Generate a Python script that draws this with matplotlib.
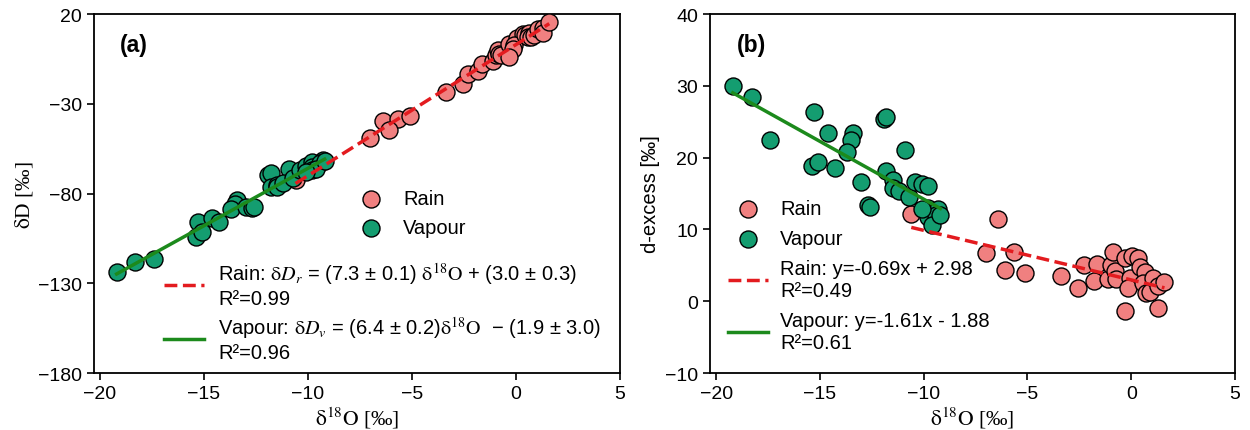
import numpy as np
import matplotlib
matplotlib.use("Agg")
import matplotlib.pyplot as plt

plt.rcParams['font.family'] = ['Liberation Sans', 'DejaVu Sans']
plt.rcParams['mathtext.fontset'] = 'stix'

# ---------------- data ----------------
vap_d18O = [-19.2, -18.3, -17.4, -15.3, -14.6, -13.4, -13.5, -13.7, -15.4, -15.1,
            -14.3, -13.0, -11.9, -11.8, -10.9, -11.8, -11.5, -11.5, -11.2, -10.7,
            -10.4, -10.1, -9.8, -12.7, -12.6, -9.8, -9.3, -9.8, -9.4, -9.6,
            -10.1, -9.2]
vap_dD = [-123.6, -117.9, -116.7, -96.1, -93.4, -83.8, -85.6, -88.8, -104.3, -101.4,
          -95.8, -87.4, -69.8, -68.8, -66.1, -76.2, -75.1, -76.2, -74.3, -71.1,
          -66.6, -64.5, -62.4, -88.2, -87.7, -65.4, -61.5, -66.6, -63.2, -66.2,
          -68.0, -61.6]
vap_dex = [30.0, 28.5, 22.5, 26.3, 23.4, 23.4, 22.4, 20.8, 18.9, 19.4,
           18.6, 16.6, 25.4, 25.6, 21.1, 18.2, 16.9, 15.8, 15.3, 14.5,
           16.6, 16.3, 16.0, 13.4, 13.1, 13.0, 12.9, 11.8, 12.0, 10.6,
           12.8, 12.0]

rain_d18O = [-10.6, -6.4, -7.0, -5.65, -6.1, -5.1, -3.37, -2.57, -2.29, -1.81,
             -1.65, -1.12, -0.96, -0.88, -0.8, -0.72, -0.32, 0.05, 0.32, -0.08,
             -0.16, -0.32, 0.43, 0.64, 0.57, 0.72, 0.88, 1.05, 1.28, 1.28, 1.6]
rain_dD = [-72.7, -39.7, -49.3, -38.3, -44.4, -36.8, -23.5, -18.8, -13.2, -11.7,
           -8.0, -5.9, -2.7, -0.1, -2.2, -2.7, 3.5, 6.7, 8.7, 2.7,
           0.5, -4.0, 8.2, 9.2, 7.2, 7.0, 8.3, 11.6, 12.3, 9.3, 15.5]
rain_dex = [12.1, 11.5, 6.7, 6.9, 4.4, 4.0, 3.5, 1.8, 5.1, 2.8,
            5.2, 3.1, 5.0, 6.9, 4.2, 3.1, 6.1, 6.3, 6.1, 3.3,
            1.8, -1.4, 4.8, 4.1, 2.6, 1.2, 1.3, 3.2, 2.1, -0.9, 2.7]

# regression coefficients (slope, intercept)
fit_a_rain = (7.3, 3.0)
fit_a_vap = (6.4, -1.9)
fit_b_rain = (-0.69, 2.98)
fit_b_vap = (-1.61, -1.88)

lab_a_rain = ("Rain: $\\mathrm{\\delta}\\mathit{D_r}$ = (7.3 ± 0.1) $\\mathrm{\\delta^{18}O}$ + (3.0 ± 0.3)\nR²=0.99")
lab_a_vap = ("Vapour: $\\mathrm{\\delta}\\mathit{D_v}$ = (6.4 ± 0.2)$\\mathrm{\\delta^{18}O}$  − (1.9 ± 3.0)\nR²=0.96")
lab_b_rain = "Rain: y=-0.69x + 2.98\nR²=0.49"
lab_b_vap = "Vapour: y=-1.61x - 1.88\nR²=0.61"

# ---------------- style ----------------
c_rain = '#f08080'
c_vap = '#149d70'
c_rline = '#e31b1f'
c_vline = '#1c8a1c'
FS_TICK = 14
FS_LEG = 14.5
FS_LAB = 15.5
ms = 150

fig = plt.figure(figsize=(12.5, 4.31), dpi=100)
axa = fig.add_axes([0.075, 0.132, 0.421, 0.833])
axb = fig.add_axes([0.568, 0.132, 0.420, 0.833])


def fitline(ax, xs, coef, **kw):
    xr = np.array([min(xs), max(xs)])
    return ax.plot(xr, coef[0] * xr + coef[1], zorder=4, **kw)[0]


for ax in (axa, axb):
    for s in ax.spines.values():
        s.set_linewidth(1.3)
    ax.tick_params(labelsize=FS_TICK, width=1.2, length=5)
    ax.set_xlim(-20.3, 5)
    ax.set_xticks([-20, -15, -10, -5, 0, 5])
    ax.set_xlabel("$\\mathrm{\\delta^{18}O}$ [‰]", fontsize=FS_LAB, family='Liberation Serif', labelpad=2)

# ---- panel (a)
sr = axa.scatter(rain_d18O, rain_dD, s=ms, c=c_rain, edgecolors='black', linewidths=1.0, zorder=3)
sv = axa.scatter(vap_d18O, vap_dD, s=ms, c=c_vap, edgecolors='black', linewidths=1.0, zorder=3)
lr = fitline(axa, rain_d18O, fit_a_rain, color=c_rline, ls='--', lw=2.5)
lv = fitline(axa, vap_d18O, fit_a_vap, color=c_vline, ls='-', lw=2.5)
axa.set_ylim(-180, 20)
axa.set_yticks([-180, -130, -80, -30, 20])
axa.set_ylabel("$\\mathrm{\\delta}$D [‰]", fontsize=FS_LAB, family='Liberation Serif', labelpad=2)
axa.text(0.049, 0.916, "(a)", transform=axa.transAxes, fontsize=16.5, fontweight='bold', va='center', ha='left')
leg1 = axa.legend([sr, sv], ['Rain', 'Vapour'], loc='upper left', bbox_to_anchor=(0.473, 0.535),
                  borderaxespad=0, frameon=False, fontsize=FS_LEG, handletextpad=0.6)
axa.add_artist(leg1)
axa.legend([lr, lv], [lab_a_rain, lab_a_vap], loc='upper left', bbox_to_anchor=(0.118, 0.337),
           borderaxespad=0, frameon=False, fontsize=FS_LEG, handletextpad=0.7, labelspacing=0.3)

# ---- panel (b)
sr2 = axb.scatter(rain_d18O, rain_dex, s=ms, c=c_rain, edgecolors='black', linewidths=1.0, zorder=3)
sv2 = axb.scatter(vap_d18O, vap_dex, s=ms, c=c_vap, edgecolors='black', linewidths=1.0, zorder=3)
lr2 = fitline(axb, rain_d18O, fit_b_rain, color=c_rline, ls='--', lw=2.5)
lv2 = fitline(axb, vap_d18O, fit_b_vap, color=c_vline, ls='-', lw=2.5)
axb.set_ylim(-10, 40)
axb.set_yticks([-10, 0, 10, 20, 30, 40])
axb.set_ylabel("d-excess [‰]", fontsize=FS_LEG)
axb.text(0.051, 0.916, "(b)", transform=axb.transAxes, fontsize=16.5, fontweight='bold', va='center', ha='left')
axb.legend([sr2, sv2, lr2, lv2], ['Rain', 'Vapour', lab_b_rain, lab_b_vap], loc='upper left',
           bbox_to_anchor=(0.019, 0.507), borderaxespad=0, frameon=False, fontsize=FS_LEG,
           handletextpad=0.6, labelspacing=0.55)

fig.savefig("out.png", dpi=100)
